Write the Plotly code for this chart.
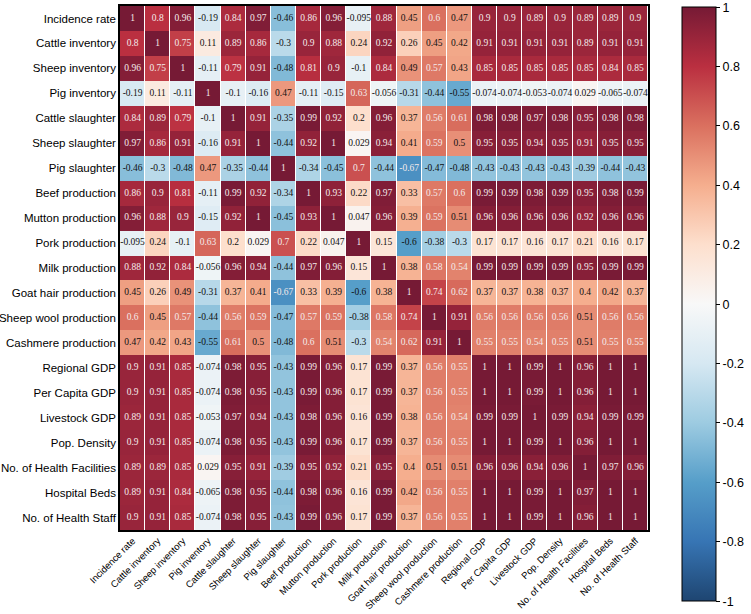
import plotly.graph_objects as go

labels = ["Incidence rate", "Cattle inventory", "Sheep inventory", "Pig inventory",
          "Cattle slaughter", "Sheep slaughter", "Pig slaughter", "Beef production",
          "Mutton production", "Pork production", "Milk production", "Goat hair production",
          "Sheep wool production", "Cashmere production", "Regional GDP", "Per Capita GDP",
          "Livestock GDP", "Pop. Density", "No. of Health Facilities", "Hospital Beds",
          "No. of Health Staff"]

r_incidence = [1, 0.8, 0.96, -0.19, 0.84, 0.97, -0.46, 0.86, 0.96, -0.095, 0.88, 0.45, 0.6, 0.47, 0.9, 0.9, 0.89, 0.9, 0.89, 0.89, 0.9]
r_cattle_inv = [0.8, 1, 0.75, 0.11, 0.89, 0.86, -0.3, 0.9, 0.88, 0.24, 0.92, 0.26, 0.45, 0.42, 0.91, 0.91, 0.91, 0.91, 0.89, 0.91, 0.91]
r_sheep_inv = [0.96, 0.75, 1, -0.11, 0.79, 0.91, -0.48, 0.81, 0.9, -0.1, 0.84, 0.49, 0.57, 0.43, 0.85, 0.85, 0.85, 0.85, 0.85, 0.84, 0.85]
r_pig_inv = [-0.19, 0.11, -0.11, 1, -0.1, -0.16, 0.47, -0.11, -0.15, 0.63, -0.056, -0.31, -0.44, -0.55, -0.074, -0.074, -0.053, -0.074, 0.029, -0.065, -0.074]
r_cattle_sl = [0.84, 0.89, 0.79, -0.1, 1, 0.91, -0.35, 0.99, 0.92, 0.2, 0.96, 0.37, 0.56, 0.61, 0.98, 0.98, 0.97, 0.98, 0.95, 0.98, 0.98]
r_sheep_sl = [0.97, 0.86, 0.91, -0.16, 0.91, 1, -0.44, 0.92, 1, 0.029, 0.94, 0.41, 0.59, 0.5, 0.95, 0.95, 0.94, 0.95, 0.91, 0.95, 0.95]
r_pig_sl = [-0.46, -0.3, -0.48, 0.47, -0.35, -0.44, 1, -0.34, -0.45, 0.7, -0.44, -0.67, -0.47, -0.48, -0.43, -0.43, -0.43, -0.43, -0.39, -0.44, -0.43]
r_beef = [0.86, 0.9, 0.81, -0.11, 0.99, 0.92, -0.34, 1, 0.93, 0.22, 0.97, 0.33, 0.57, 0.6, 0.99, 0.99, 0.98, 0.99, 0.95, 0.98, 0.99]
r_mutton = [0.96, 0.88, 0.9, -0.15, 0.92, 1, -0.45, 0.93, 1, 0.047, 0.96, 0.39, 0.59, 0.51, 0.96, 0.96, 0.96, 0.96, 0.92, 0.96, 0.96]
r_pork = [-0.095, 0.24, -0.1, 0.63, 0.2, 0.029, 0.7, 0.22, 0.047, 1, 0.15, -0.6, -0.38, -0.3, 0.17, 0.17, 0.16, 0.17, 0.21, 0.16, 0.17]
r_milk = [0.88, 0.92, 0.84, -0.056, 0.96, 0.94, -0.44, 0.97, 0.96, 0.15, 1, 0.38, 0.58, 0.54, 0.99, 0.99, 0.99, 0.99, 0.95, 0.99, 0.99]
r_goat_hair = [0.45, 0.26, 0.49, -0.31, 0.37, 0.41, -0.67, 0.33, 0.39, -0.6, 0.38, 1, 0.74, 0.62, 0.37, 0.37, 0.38, 0.37, 0.4, 0.42, 0.37]
r_wool = [0.6, 0.45, 0.57, -0.44, 0.56, 0.59, -0.47, 0.57, 0.59, -0.38, 0.58, 0.74, 1, 0.91, 0.56, 0.56, 0.56, 0.56, 0.51, 0.56, 0.56]
r_cashmere = [0.47, 0.42, 0.43, -0.55, 0.61, 0.5, -0.48, 0.6, 0.51, -0.3, 0.54, 0.62, 0.91, 1, 0.55, 0.55, 0.54, 0.55, 0.51, 0.55, 0.55]
r_reg_gdp = [0.9, 0.91, 0.85, -0.074, 0.98, 0.95, -0.43, 0.99, 0.96, 0.17, 0.99, 0.37, 0.56, 0.55, 1, 1, 0.99, 1, 0.96, 1, 1]
r_pc_gdp = [0.9, 0.91, 0.85, -0.074, 0.98, 0.95, -0.43, 0.99, 0.96, 0.17, 0.99, 0.37, 0.56, 0.55, 1, 1, 0.99, 1, 0.96, 1, 1]
r_live_gdp = [0.89, 0.91, 0.85, -0.053, 0.97, 0.94, -0.43, 0.98, 0.96, 0.16, 0.99, 0.38, 0.56, 0.54, 0.99, 0.99, 1, 0.99, 0.94, 0.99, 0.99]
r_pop = [0.9, 0.91, 0.85, -0.074, 0.98, 0.95, -0.43, 0.99, 0.96, 0.17, 0.99, 0.37, 0.56, 0.55, 1, 1, 0.99, 1, 0.96, 1, 1]
r_facilities = [0.89, 0.89, 0.85, 0.029, 0.95, 0.91, -0.39, 0.95, 0.92, 0.21, 0.95, 0.4, 0.51, 0.51, 0.96, 0.96, 0.94, 0.96, 1, 0.97, 0.96]
r_beds = [0.89, 0.91, 0.84, -0.065, 0.98, 0.95, -0.44, 0.98, 0.96, 0.16, 0.99, 0.42, 0.56, 0.55, 1, 1, 0.99, 1, 0.97, 1, 1]
r_staff = [0.9, 0.91, 0.85, -0.074, 0.98, 0.95, -0.43, 0.99, 0.96, 0.17, 0.99, 0.37, 0.56, 0.55, 1, 1, 0.99, 1, 0.96, 1, 1]

z = [r_incidence, r_cattle_inv, r_sheep_inv, r_pig_inv, r_cattle_sl, r_sheep_sl, r_pig_sl,
     r_beef, r_mutton, r_pork, r_milk, r_goat_hair, r_wool, r_cashmere, r_reg_gdp, r_pc_gdp,
     r_live_gdp, r_pop, r_facilities, r_beds, r_staff]

cbar_ticks = [1, 0.8, 0.6, 0.4, 0.2, 0, -0.2, -0.4, -0.6, -0.8, -1]

# matplotlib RdBu_r, slightly washed to match the reference
base = ["#053061", "#2166ac", "#4393c3", "#92c5de", "#d1e5f0", "#f7f7f7",
        "#fddbc7", "#f4a582", "#d6604d", "#b2182b", "#67001f"]

def wash(h, a=0.1):
    r, g, b = int(h[1:3], 16), int(h[3:5], 16), int(h[5:7], 16)
    return "rgb(%d,%d,%d)" % tuple(round(c * (1 - a) + 255 * a) for c in (r, g, b))

colorscale = [[i / 10, wash(c)] for i, c in enumerate(base)]

fig = go.Figure()
fig.add_trace(go.Heatmap(
    z=z, x=labels, y=labels, zmin=-1, zmax=1, colorscale=colorscale,
    xgap=1, ygap=0, hoverinfo="skip",
    colorbar=dict(
        tickvals=cbar_ticks, ticktext=[f"{t:g}" for t in cbar_ticks],
        thickness=34, lenmode="pixels", len=594, y=0.431, yanchor="middle",
        x=1.065, xanchor="left", xpad=0, ypad=0, outlinewidth=1, outlinecolor="black",
        ticks="outside", ticklen=4, tickcolor="black",
        tickfont=dict(family="Liberation Sans", size=12.5, color="black"),
    ),
))

wx, wy, wt, bx, by, bt = [], [], [], [], [], []
for i, row in enumerate(z):
    for j, v in enumerate(row):
        if v > 0.52 or v < -0.62:
            wx.append(labels[j]); wy.append(labels[i]); wt.append(f"{v:g}")
        else:
            bx.append(labels[j]); by.append(labels[i]); bt.append(f"{v:g}")

fig.add_trace(go.Scatter(x=wx, y=wy, text=wt, mode="text", hoverinfo="skip", showlegend=False,
                         textfont=dict(family="Liberation Serif", size=9.5, color="#f4eaea")))
fig.add_trace(go.Scatter(x=bx, y=by, text=bt, mode="text", hoverinfo="skip", showlegend=False,
                         textfont=dict(family="Liberation Serif", size=9.5, color="#111111")))

n = len(labels)
fig.update_layout(
    width=751, height=614, margin=dict(l=120, r=89, t=6, b=84),
    plot_bgcolor="white", paper_bgcolor="white", showlegend=False,
)
fig.update_xaxes(range=[-0.5, n - 0.5], tickangle=-45, automargin=False, showline=True, linecolor="black",
                 linewidth=1.5, mirror=True, showgrid=False, zeroline=False, ticks="",
                 tickfont=dict(family="Liberation Sans", size=9.5, color="black"))
fig.update_yaxes(range=[n - 0.5, -0.5], automargin=False, showline=True, linecolor="black", linewidth=1.5,
                 mirror=True, showgrid=False, zeroline=False, ticks="",
                 tickfont=dict(family="Liberation Sans", size=11.5, color="black"))

fig.write_html("out.html")
